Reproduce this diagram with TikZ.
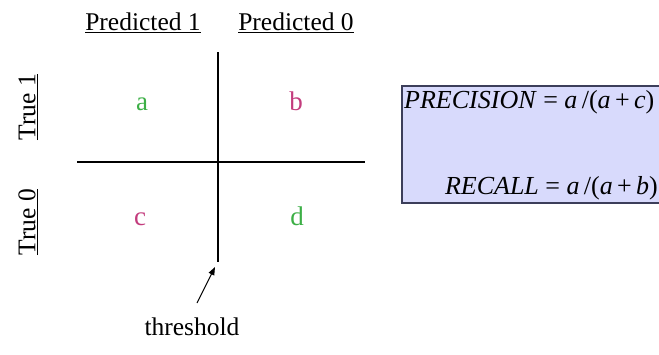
\documentclass[tikz,border=0pt]{standalone}
\usepackage{fontspec}
\setmainfont{Liberation Serif}
\usetikzlibrary{arrows.meta}
\definecolor{cgreen}{RGB}{60,175,70}
\definecolor{cpink}{RGB}{195,60,125}
\definecolor{boxfill}{RGB}{216,218,252}
\definecolor{boxline}{RGB}{60,62,90}
\begin{document}
\begin{tikzpicture}[x=1pt,y=-1pt,
  lbl/.style={inner sep=0pt,font=\fontsize{25.5}{30}\selectfont},
  cell/.style={inner sep=0pt,font=\fontsize{27}{32}\selectfont},
  eq/.style={inner sep=0pt,font=\fontsize{26}{31}\selectfont},
  axis/.style={line width=1.2pt,black}]
\clip (0,0) rectangle (659,354);
\useasboundingbox (0,0) rectangle (659,354);
% grid
\coordinate (vt) at (218,52);
\coordinate (vb) at (218,262);
\coordinate (hl) at (77,162);
\coordinate (hr) at (365,162);
\draw[axis] (vt) -- (vb);
\draw[axis] (hl) -- (hr);
% headers
\node[lbl] (p1) at (143,23) {\underline{Predicted 1}};
\node[lbl] (p0) at (296,23) {\underline{Predicted 0}};
\node[lbl,rotate=90] (t1) at (28,107) {\underline{True 1}};
\node[lbl,rotate=90] (t0) at (28,222) {\underline{True 0}};
% cells
\node[cell,text=cgreen] (a) at (142,104) {a};
\node[cell,text=cpink] (b) at (296,101) {b};
\node[cell,text=cpink] (c) at (140,219) {c};
\node[cell,text=cgreen] (d) at (297,216) {d};
% threshold
\node[lbl] (th) at (192,327) {threshold};
\coordinate (tip) at (215,267);
\draw[line width=1pt,-{Triangle[length=8pt,width=6pt]}] (197,303) -- (tip);
% box
\draw[fill=boxfill,draw=boxline,line width=1.2pt] (402,86) rectangle (680,203);
\node[eq,anchor=west] (prec) at (404,102) {\textit{PRECISION} = \textit{a}\,/(\textit{a}\,+\,\textit{c})};
\node[eq,anchor=east] (rec) at (658,188) {\textit{RECALL} = \textit{a}\,/(\textit{a}\,+\,\textit{b})};
\end{tikzpicture}
\end{document}
